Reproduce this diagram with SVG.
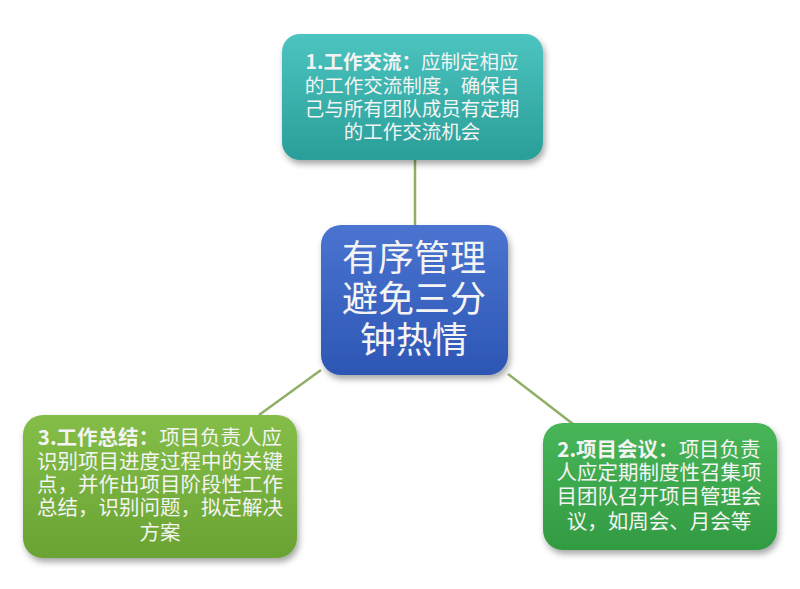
<svg xmlns="http://www.w3.org/2000/svg" width="800" height="589" viewBox="0 0 800 589">
<defs>
<linearGradient id="gTeal" x1="0" y1="0" x2="0" y2="1"><stop offset="0" stop-color="#4cc4bf"/><stop offset="1" stop-color="#2a9e99"/></linearGradient>
<linearGradient id="gBlue" x1="0" y1="0" x2="0" y2="1"><stop offset="0" stop-color="#4a74d0"/><stop offset="1" stop-color="#2d56b4"/></linearGradient>
<linearGradient id="gLime" x1="0" y1="0" x2="0" y2="1"><stop offset="0" stop-color="#84be48"/><stop offset="1" stop-color="#6aa333"/></linearGradient>
<linearGradient id="gGreen" x1="0" y1="0" x2="0" y2="1"><stop offset="0" stop-color="#48b558"/><stop offset="1" stop-color="#329b42"/></linearGradient>
<filter id="sh" x="-10%" y="-10%" width="125%" height="130%"><feDropShadow dx="2" dy="4" stdDeviation="3" flood-color="#000" flood-opacity="0.35"/></filter>
</defs>
<style>
.t{font-family:"Noto Sans CJK SC","Liberation Sans",sans-serif;fill:#f4f4f4;text-anchor:middle}
.s{font-size:19.5px}
.m{font-size:20.5px}
.b{font-weight:bold}
.c{font-size:36px}
.ln{stroke:#8fae66;stroke-width:2.5;fill:none}
</style>
<rect width="800" height="589" fill="#ffffff"/>
<g id="connectors">
<line class="ln" x1="415" y1="160" x2="415" y2="226"/>
<line class="ln" x1="321" y1="370" x2="259" y2="415"/>
<line class="ln" x1="508" y1="374" x2="573" y2="424"/>
</g>
<g id="node-top">
<rect x="282" y="34" width="261" height="126" rx="18" fill="url(#gTeal)" filter="url(#sh)"/>
<text class="t s"><tspan x="412" y="69"><tspan class="b">1.工作交流：</tspan>应制定相应</tspan><tspan x="412" y="93">的工作交流制度，确保自</tspan><tspan x="412" y="116">己与所有团队成员有定期</tspan><tspan x="412" y="139">的工作交流机会</tspan></text>
</g>
<g id="node-center">
<rect x="321" y="225" width="187" height="150" rx="20" fill="url(#gBlue)" filter="url(#sh)"/>
<text class="t c"><tspan x="414" y="271">有序管理</tspan><tspan x="414" y="312">避免三分</tspan><tspan x="414" y="353">钟热情</tspan></text>
</g>
<g id="node-left">
<rect x="23" y="415" width="274" height="143" rx="20" fill="url(#gLime)" filter="url(#sh)"/>
<text class="t m"><tspan x="160" y="445"><tspan class="b">3.工作总结：</tspan>项目负责人应</tspan><tspan x="160" y="469">识别项目进度过程中的关键</tspan><tspan x="160" y="492">点，并作出项目阶段性工作</tspan><tspan x="160" y="515">总结，识别问题，拟定解决</tspan><tspan x="160" y="540">方案</tspan></text>
</g>
<g id="node-right">
<rect x="543" y="423" width="234" height="127" rx="20" fill="url(#gGreen)" filter="url(#sh)"/>
<text class="t m"><tspan x="659" y="457"><tspan class="b">2.项目会议：</tspan>项目负责</tspan><tspan x="659" y="480">人应定期制度性召集项</tspan><tspan x="659" y="504">目团队召开项目管理会</tspan><tspan x="659" y="529">议，如周会、月会等</tspan></text>
</g>
</svg>
